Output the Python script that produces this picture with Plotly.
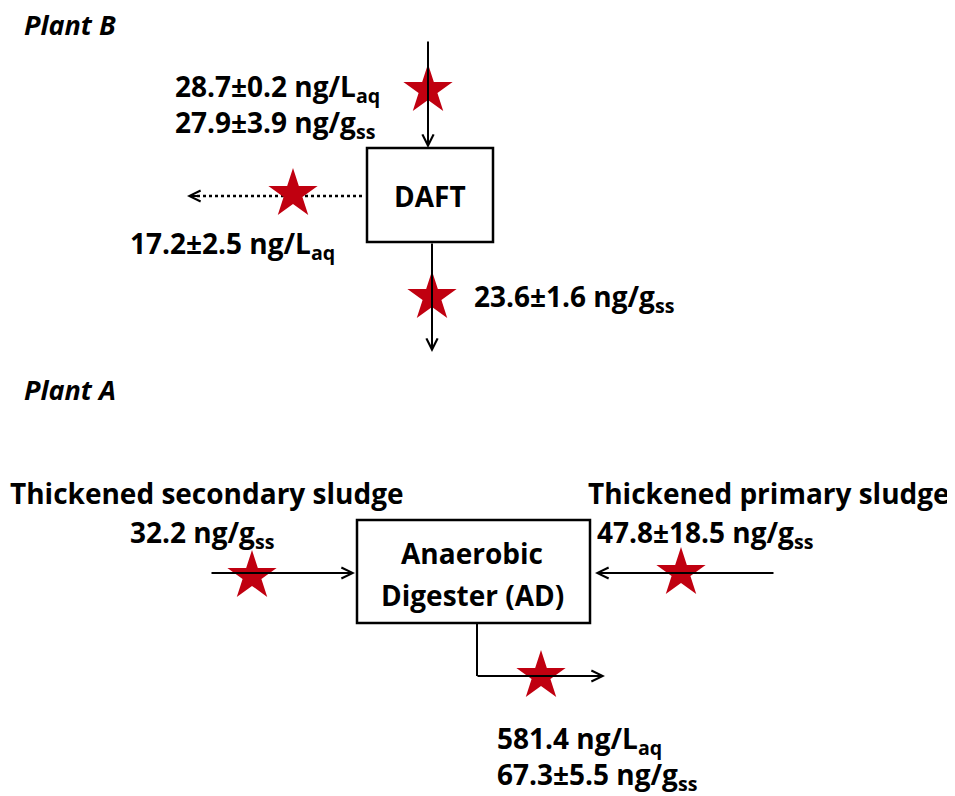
import plotly.graph_objects as go

# ---- data (labels / values) ----
plant_titles = ["Plant B", "Plant A"]
daft_in_labels = ["28.7±0.2 ng/L<sub>aq</sub>", "27.9±3.9 ng/g<sub>ss</sub>"]
daft_side_label = "17.2±2.5 ng/L<sub>aq</sub>"
daft_out_label = "23.6±1.6 ng/g<sub>ss</sub>"
ad_sec_name = "Thickened secondary sludge"
ad_sec_label = "32.2 ng/g<sub>ss</sub>"
ad_pri_name = "Thickened primary sludge"
ad_pri_label = "47.8±18.5 ng/g<sub>ss</sub>"
ad_out_labels = ["581.4 ng/L<sub>aq</sub>", "67.3±5.5 ng/g<sub>ss</sub>"]
box_labels = ["Anaerobic", "Digester (AD)", "DAFT"]

# ---- layout geometry (pixel space) ----
W, H = 955, 796
OFF = 8  # page body margin
FONT = "Open Sans"
FS = 28
BLACK = "#000000"
RED = "#C00010"

star_x = [428, 293, 432, 252, 681, 541]
star_y = [90, 194, 297, 576, 573, 676]

fig = go.Figure()
fig.add_trace(go.Scatter(x=star_x, y=star_y, mode="markers",
                         marker=dict(symbol="star", size=37, color=RED, line=dict(width=0)),
                         hoverinfo="skip", showlegend=False))

shapes = []
shapes.append(dict(type="rect", x0=367, x1=493, y0=148, y1=242, line=dict(color=BLACK, width=2.5), fillcolor="white", layer="below"))
shapes.append(dict(type="rect", x0=357, x1=590, y0=520, y1=623, line=dict(color=BLACK, width=2.5), fillcolor="white", layer="below"))
shapes.append(dict(type="line", x0=362, y0=196, x1=196, y1=196, line=dict(color=BLACK, width=2.5, dash="dot"), layer="below"))
shapes.append(dict(type="line", x0=477, y0=622, x1=477, y1=676, line=dict(color=BLACK, width=2), layer="below"))

ann = []
def arrow(x0, y0, x1, y1):
    ann.append(dict(x=x1, y=y1, ax=x0, ay=y0, xref="x", yref="y", axref="x", ayref="y",
                    text="", showarrow=True, arrowhead=5, arrowsize=1.1, arrowwidth=2,
                    arrowcolor=BLACK, standoff=0))

arrow(428, 40, 428, 148)
arrow(200, 196, 187, 196)
arrow(432, 242, 432, 352)
arrow(210, 573, 355, 573)
arrow(775, 573, 595, 573)
arrow(476, 676, 605, 676)

def text(x, y, s, anchor="left", size=FS, yanchor="middle"):
    ann.append(dict(x=x, y=y, xref="x", yref="y", text=s, showarrow=False,
                    xanchor=anchor, yanchor=yanchor, align="left" if anchor == "left" else "center",
                    font=dict(family=FONT, size=size, color=BLACK)))

def bold(s):
    return "<b>" + s + "</b>"

text(22, 24, "<b><i>" + plant_titles[0] + "</i></b>", size=27)
text(22, 389, "<b><i>" + plant_titles[1] + "</i></b>", size=27)
text(173, 106, "<br>".join(bold(s) for s in daft_in_labels))
text(430, 196, bold(box_labels[2]), anchor="center")
text(128, 245, bold(daft_side_label))
text(472, 298, bold(daft_out_label))
text(8, 493, bold(ad_sec_name))
text(128, 534, bold(ad_sec_label))
text(586, 493, bold(ad_pri_name))
text(595, 534, bold(ad_pri_label))
text(472, 553, bold(box_labels[0]), anchor="center")
text(472, 595, bold(box_labels[1]), anchor="center")
text(495, 758, "<br>".join(bold(s) for s in ad_out_labels))

fig.update_layout(
    width=W - OFF, height=H - OFF, margin=dict(l=0, r=0, t=0, b=0),
    paper_bgcolor="white", plot_bgcolor="white",
    xaxis=dict(range=[OFF, W], visible=False, fixedrange=True),
    yaxis=dict(range=[H, OFF], visible=False, fixedrange=True),
    shapes=shapes, annotations=ann, showlegend=False,
)
fig.write_html("out.html")
